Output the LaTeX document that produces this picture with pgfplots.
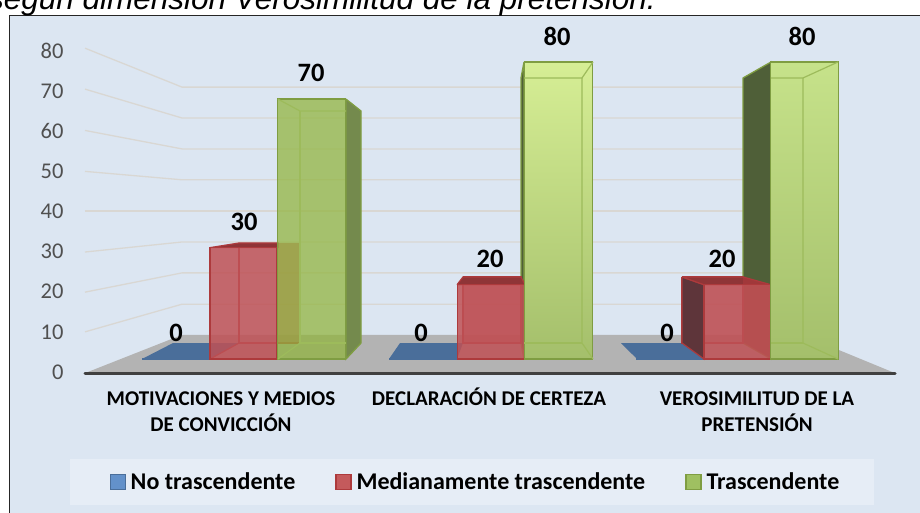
\documentclass[border=0pt]{standalone}
\usepackage{fontspec}
\setmainfont{Carlito}
\newfontfamily\titlefont{Liberation Sans}
\usepackage{pgfplots}
\usepackage{pgfplotstable}
\pgfplotsset{compat=1.18}
\definecolor{wallbg}{HTML}{DCE6F2}
\definecolor{legbg}{HTML}{E6EDF6}
\definecolor{gridc}{HTML}{D9D7D3}
\definecolor{floorc}{HTML}{B3B3B3}
\definecolor{bluef}{HTML}{4A6E9A}
\definecolor{bluel}{HTML}{6391CA}
\definecolor{redf}{HTML}{BF5155}
\definecolor{redl}{HTML}{C45A5C}
\definecolor{rede}{HTML}{AD3A3C}
\definecolor{redtop}{HTML}{8F3537}
\definecolor{reddark}{HTML}{5E353A}
\definecolor{greenf}{HTML}{90B43B}
\definecolor{greenlg}{HTML}{9FC061}
\definecolor{greene}{HTML}{7F9D42}
\definecolor{greendark}{HTML}{4F5F38}
\definecolor{greenside}{HTML}{748A4D}
\definecolor{greenl}{HTML}{9DBB5B}
\definecolor{tickc}{HTML}{505050}
\definecolor{gtopA}{HTML}{D6EE95}
\definecolor{gtopB}{HTML}{C6E28A}
\definecolor{gbot}{HTML}{A4BF6B}
\pgfplotstableread{
x y
176 0
423 0
670 0
}\bluedata
\pgfplotstableread{
x y
243.5 30
491 20
737.5 20
}\reddata
\pgfplotstableread{
x y
311.5 70
}\greendataA
\pgfplotstableread{
x y
558.5 80
}\greendataB
\pgfplotstableread{
x y
804.5 80
}\greendataC
\pgfplotstableread{
x y
176 0
244 30
311 70
421 0
490 20
557 80
667 0
722 20
802 80
}\labeldata
\pgfplotsset{leg/.style={legend image code/.code={\draw[##1,fill=#1,opacity=1,fill opacity=1] (0pt,-7.5pt) rectangle (15pt,7.5pt);}}}
\begin{document}
\begin{tikzpicture}
\path[use as bounding box,clip] (0,0) rectangle (920pt,513pt);
\fill[white] (0,0) rectangle (920pt,513pt);
\draw[line width=1.3pt,draw=black!85,fill=wallbg] (9.5pt,-5pt) rectangle (930pt,497.5pt);
\fill[legbg] (70pt,8pt) rectangle (874pt,54pt);
\node[anchor=base east,inner sep=0pt,font=\titlefont\itshape\fontsize{31.5}{33}\selectfont] at (656pt,503.5pt) {según dimensión Verosimilitud de la pretensión.};
% back wall and its scale
\begin{axis}[
  scale only axis,width=810pt,height=321pt,at={(85pt,141pt)},anchor=south west,
  xmin=85,xmax=895,ymin=0,ymax=80,clip=false,
  axis line style={draw=none},major tick length=0pt,
  ytick={0,10,...,80},
  /pgf/number format/assume math mode=true,
  yticklabel style={font=\fontsize{22.5}{24}\selectfont,text=tickc,anchor=east,xshift=-18pt},
  xtick={221,489,757},
  xticklabels={{\strut MOTIVACIONES Y MEDIOS\\DE CONVICCIÓN},{\strut DECLARACIÓN DE CERTEZA\\\strut},{\strut VEROSIMILITUD DE LA\\PRETENSIÓN}},
  xticklabel style={font=\bfseries\fontsize{21}{26}\selectfont,align=center,anchor=north,yshift=-12pt},
]
\addplot[gridc,line width=1.3pt] coordinates {(85,80.7)(182,71.0)(745,71.0)};
\addplot[gridc,line width=1.3pt] coordinates {(85,70.5)(182,63.3)(745,63.3)};
\addplot[gridc,line width=1.3pt] coordinates {(85,60.2)(182,55.6)(745,55.6)};
\addplot[gridc,line width=1.3pt] coordinates {(85,50.0)(182,47.9)(745,47.9)};
\addplot[gridc,line width=1.3pt] coordinates {(85,40.1)(182,40.1)(745,40.1)};
\addplot[gridc,line width=1.3pt] coordinates {(85,29.9)(182,32.4)(745,32.4)};
\addplot[gridc,line width=1.3pt] coordinates {(85,19.9)(182,24.7)(745,24.7)};
\addplot[gridc,line width=1.3pt] coordinates {(85,10.0)(182,16.9)(745,16.9)};
\end{axis}
% bars: 0 at the front edge, 80 at the top of the tall bars
\begin{axis}[
  scale only axis,width=810pt,height=297pt,at={(85pt,154pt)},anchor=south west,
  xmin=85,xmax=895,ymin=0,ymax=80,clip=false,hide axis,
  legend style={at={(0.482,-0.414)},anchor=center,draw=none,fill=none,legend columns=3,
    font=\bfseries\fontsize{24}{26}\selectfont,
    /tikz/every odd column/.append style={column sep=3pt},
    /tikz/every even column/.append style={column sep=38pt}},
]
% floor
\addplot[fill=floorc,draw=none,forget plot] coordinates {(85,-3.8)(182,6.5)(802,6.5)(895,-3.8)(85,-3.8)};
\addplot[draw=black!75,line width=3pt,line cap=round,forget plot] coordinates {(85,-3.8)(895,-3.8)};
% no-trascendente flat tiles
\addplot[fill=bluef,draw=none,forget plot] coordinates {(142,0)(173,4.3)(239,4.3)(210,0)(142,0)};
\addplot[fill=bluef,draw=none,forget plot] coordinates {(389,0)(400,4.3)(463,4.3)(457,0)(389,0)};
\addplot[fill=bluef,draw=none,forget plot] coordinates {(637,0)(621,4.3)(682,4.3)(704,0)(637,0)};
\addplot[ybar,bar width=68pt,bar shift=0pt,fill=bluel,draw=bluef,line width=1.2pt,leg=bluel] table[x=x,y=y] {\bluedata};
\addlegendentry{No trascendente}
% green dark inner sides behind red
\addplot[fill=greendark,draw=greene,line width=1.3pt,forget plot] coordinates {(521,75.7)(524,80)(524,0)(521,4.3)(521,75.7)};
\addplot[fill=greendark,draw=greene,line width=1.3pt,forget plot] coordinates {(743,75.7)(771,80)(771,0)(743,4.3)(743,75.7)};
% red group 1
\addplot[fill=redf,fill opacity=.7,draw=none,forget plot] coordinates {(278,31.25)(300,31.25)(300,4.3)(278,4.3)(278,31.25)};
\addplot[draw=rede!70!redf,line width=1.1pt,forget plot] coordinates {(239,31.25)(239,4.3)(300,4.3)};
\addplot[draw=rede,line width=1.2pt,forget plot] coordinates {(210,0)(239,4.3)};
\addplot[fill=redtop,draw=rede,line width=1.2pt,forget plot] coordinates {(210,30)(239,31.25)(278,31.25)(278,30)(210,30)};
% red group 2
\addplot[fill=redf,fill opacity=.6,draw=rede,line width=1.2pt,forget plot] coordinates {(463,22.1)(521,22.1)(521,4.3)(463,4.3)(463,22.1)};
\addplot[fill=redtop,draw=rede,line width=1.2pt,forget plot] coordinates {(457,20)(463,22.1)(521,22.1)(525,20)(457,20)};
% red group 3
\addplot[fill=redf,fill opacity=.35,draw=rede,line width=1.2pt,forget plot] coordinates {(682,22.1)(743,22.1)(743,4.3)(682,4.3)(682,22.1)};
\addplot[fill=reddark,draw=rede,line width=1.2pt,forget plot] coordinates {(682,22.1)(704,20)(704,0)(682,4.3)(682,22.1)};
\addplot[fill=redtop,draw=rede,line width=1.2pt,forget plot] coordinates {(682,22.1)(743,22.1)(771,20)(704,20)(682,22.1)};
\addplot[fill=rede,fill opacity=.6,draw=none,forget plot] coordinates {(743,22.1)(771,20)(771,0)(743,4.3)(743,22.1)};
\addplot[ybar,bar width=67pt,bar shift=0pt,fill=redf,fill opacity=.85,draw=rede,line width=1.2pt,leg=redl] table[x=x,y=y] {\reddata};
\addlegendentry{Medianamente trascendente}
% green group 1
\addplot[fill=greenside,draw=greene,line width=1.3pt,forget plot] coordinates {(346,70)(361,66.8)(361,4.3)(346,0)(346,70)};
\addplot[ybar,bar width=68pt,bar shift=0pt,fill=greenf,fill opacity=.72,draw=greene,line width=1.3pt,leg=greenlg] table[x=x,y=y] {\greendataA};
\addlegendentry{Trascendente}
\addplot[draw=greenl,line width=1.2pt,forget plot] coordinates {(278,70)(300,66.8)(346,66.8)};
\addplot[draw=greenl,line width=1.2pt,forget plot] coordinates {(300,66.8)(300,4.3)(346,4.3)};
\addplot[draw=greenl,line width=1.2pt,forget plot] coordinates {(278,0)(300,4.3)};
% green groups 2 and 3
\addplot[ybar,bar width=68pt,bar shift=0pt,top color=gtopA,bottom color=gbot,draw=greene,line width=1.4pt,forget plot] table[x=x,y=y] {\greendataB};
\addplot[ybar,bar width=68pt,bar shift=0pt,top color=gtopB,bottom color=gbot,draw=greene,line width=1.4pt,forget plot] table[x=x,y=y] {\greendataC};
\addplot[draw=greenl,line width=1.2pt,forget plot] coordinates {(524,75.7)(582,75.7)(593,80)};
\addplot[draw=greenl,line width=1.2pt,forget plot] coordinates {(582,75.7)(582,4.3)(593,0)};
\addplot[draw=greenl,line width=1.2pt,forget plot] coordinates {(524,4.3)(582,4.3)};
\addplot[draw=greenl,line width=1.2pt,forget plot] coordinates {(771,75.7)(803,75.7)(838,80)};
\addplot[draw=greenl,line width=1.2pt,forget plot] coordinates {(803,75.7)(803,4.3)(838,0)};
\addplot[draw=greenl,line width=1.2pt,forget plot] coordinates {(771,4.3)(803,4.3)};
% value labels
\addplot[draw=none,forget plot,point meta=y,
  nodes near coords={\pgfmathprintnumber[assume math mode=true]{\pgfplotspointmeta}},
  nodes near coords style={anchor=center,yshift=26pt,font=\bfseries\fontsize{26.5}{28}\selectfont,text=black}]
  table[x=x,y=y] {\labeldata};
\end{axis}
\end{tikzpicture}
\end{document}
